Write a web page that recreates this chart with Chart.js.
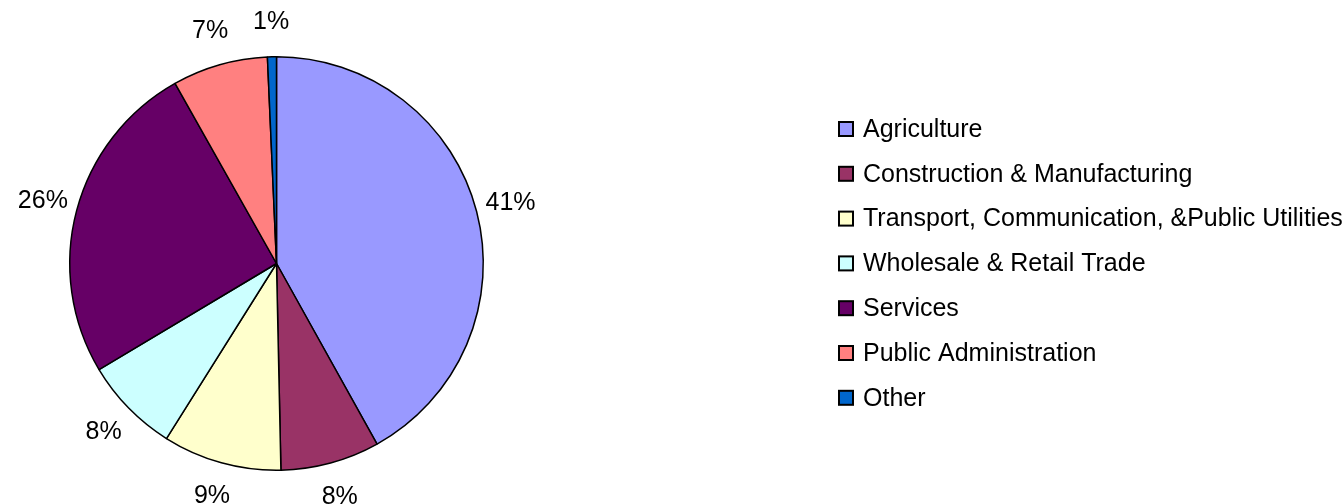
<!DOCTYPE html>
<html>
<head>
<meta charset="utf-8">
<script src="https://cdn.jsdelivr.net/npm/chart.js@4/dist/chart.umd.min.js"></script>
<style>
  body { margin: 0; background: #fff; }
  #wrap { width: 1343px; height: 504px; }
</style>
</head>
<body>
<div id="wrap"><canvas id="pie" width="1343" height="504"></canvas></div>
<script>
const sectors = [
  "Agriculture",
  "Construction & Manufacturing",
  "Transport, Communication, &Public Utilities",
  "Wholesale & Retail Trade",
  "Services",
  "Public Administration",
  "Other",
];

// slice sizes
const shares = [41.9, 7.74, 9.27, 7.49, 25.4, 7.46, 0.7];

// percentage labels as printed on the original
const pctLabels = ["41%", "8%", "9%", "8%", "26%", "7%", "1%"];

const colors = ["#9999FF", "#993366", "#FFFFCC", "#CCFFFF", "#660066", "#FF8080", "#0066CC"];

const FONT = "'Liberation Sans', Arial, sans-serif";

// percentage labels just outside each slice
const outsideLabels = {
  id: "outsideLabels",
  afterDatasetsDraw(chart) {
    const ctx = chart.ctx;
    const meta = chart.getDatasetMeta(0);
    ctx.save();
    ctx.font = "25px " + FONT;
    ctx.fillStyle = "#000";
    ctx.textAlign = "center";
    ctx.textBaseline = "middle";
    meta.data.forEach((arc, i) => {
      const { x, y, startAngle, endAngle, outerRadius } = arc.getProps(
        ["x", "y", "startAngle", "endAngle", "outerRadius"], true);
      const mid = (startAngle + endAngle) / 2;
      const r = outerRadius + 35;
      ctx.fillText(pctLabels[i], x + Math.cos(mid) * r, y + Math.sin(mid) * r);
    });
    ctx.restore();
  },
};

// legend on the right, boxes with black border
const sideLegend = {
  id: "sideLegend",
  afterDraw(chart) {
    const ctx = chart.ctx;
    const left = 839;
    const top = 129;
    const step = 44.8;
    ctx.save();
    ctx.font = "25px " + FONT;
    ctx.textBaseline = "middle";
    sectors.forEach((name, i) => {
      const y = top + i * step;
      ctx.fillStyle = colors[i];
      ctx.fillRect(left, y - 7, 14, 14);
      ctx.strokeStyle = "#000";
      ctx.lineWidth = 2;
      ctx.strokeRect(left, y - 7, 14, 14);
      ctx.fillStyle = "#000";
      ctx.fillText(name, 863, y + 1);
    });
    ctx.restore();
  },
};

new Chart(document.getElementById("pie"), {
  type: "pie",
  data: {
    labels: sectors,
    datasets: [
      {
        data: shares,
        backgroundColor: colors,
        borderColor: "#000",
        borderWidth: 1.5,
        hoverOffset: 0,
      },
    ],
  },
  options: {
    responsive: false,
    animation: false,
    layout: { padding: { left: 69, right: 859, top: 56, bottom: 33 } },
    plugins: {
      legend: { display: false },
      tooltip: { enabled: false },
    },
  },
  plugins: [outsideLabels, sideLegend],
});
</script>
</body>
</html>
